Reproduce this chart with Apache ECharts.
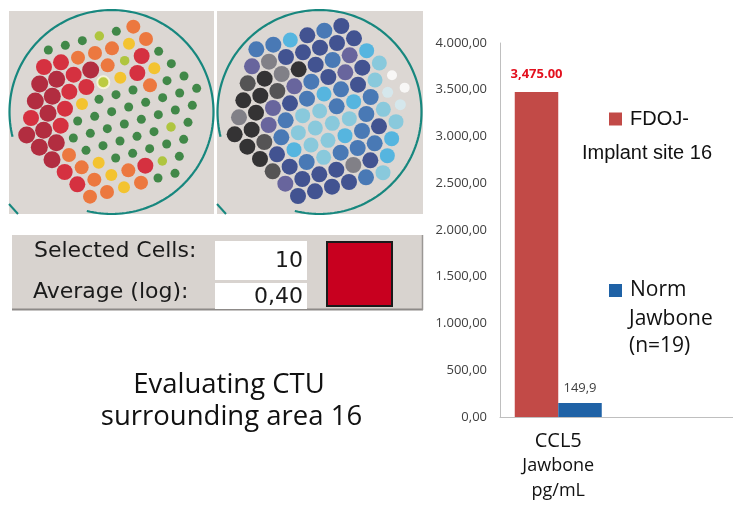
<!DOCTYPE html>
<html><head><meta charset="utf-8">
<script src="https://cdn.jsdelivr.net/npm/echarts@6/dist/echarts.min.js"></script>
<style>html,body{margin:0;padding:0;background:#fff}#c{width:733px;height:508px}</style>
</head><body><div id="c"></div>
<script>
// ---- chart data ----
const categories = ['CCL5|Jawbone|pg/mL'];
const seriesNames = ['FDOJ-Implant site 16', 'Norm Jawbone (n=19)'];
const fdojValues = [3475];
const normValues = [149.9];
const yMin = 0, yMax = 4000, yStep = 500;
const legendLinesA = ['FDOJ-', 'Implant site 16'];
const legendLinesB = ['Norm', 'Jawbone', '(n=19)'];
const captionLines = ['Evaluating CTU', 'surrounding area 16'];
const panelLabels = ['Selected Cells:', 'Average (log):'];
const panelValues = ['10', '0,40'];

// ---- cell maps (row by row) ----
const rowStart = [0,0,0,0,0,0,1,2,3,4,5];
const cellsA = ['GGGLGO','RROOOYO','DDRDOLRG','DDRRHYRYG','RDRYGGGOGG','DDRGGGGGGGG','DDGGGGGGGG','DOGGGGGLG','ROYGGGGG','ROYORLG','OOYOGG'];
const cellsB = ['BBSNBN','PgNNNNN','kKgKNBPS','KKkPBNPNC','gKPNBSBNCW','KKPBCCBSBUW','KkBCCCCBCU','KNSCCSBNC','kNBCBBBS','PNNNgNS','NNNNBC'];

const palA = {D:'#a8031b',R:'#d3071c',O:'#f0601a',Y:'#f9be08',L:'#a4c01a',H:'#b4c81e',G:'#1a7425'};
const sizeA = {D:17,R:16,O:14,Y:12,L:9.5,H:12,G:9};
const palB = {K:'#0a0a0c',k:'#333336',g:'#6a6a74',P:'#4b4890',N:'#1b3281',B:'#2461ae',S:'#34ade2',C:'#74c6de',U:'#d3ebf2',W:'#ffffff'};
const sizeB = {K:16,k:16,g:16,P:16,N:16,B:16,S:15,C:15,U:11,W:10};

const lat = {a:[17,-4.667], b:[-4.333,17]};
function cellData(rows, origin, pal, sizes){
  const out=[];
  rows.forEach((row,j)=>{
    for(let k=0;k<row.length;k++){
      const i=rowStart[j]+k, c=row[k];
      const item={value:[origin[0]+i*lat.a[0]+j*lat.b[0], origin[1]+i*lat.a[1]+j*lat.b[1]],
        symbolSize:sizes[c], itemStyle:{color:pal[c]}};
      if(c==='H'){item.itemStyle.borderColor='#fffbe6';item.itemStyle.borderWidth=2;}
      out.push(item);
    }
  });
  return out;
}

function fmtDE(v){let [a,b]=v.toFixed(2).split('.');a=a.replace(/\B(?=(\d{3})+(?!\d))/g,'.');return a+','+b;}
function fmtEN(v){let [a,b]=v.toFixed(2).split('.');a=a.replace(/\B(?=(\d{3})+(?!\d))/g,',');return a+'.'+b;}

function arcPoints(cx,cy,r,a0,a1){
  const pts=[];
  for(let t=a0;t<=a1+0.001;t+=2){const rad=t*Math.PI/180;pts.push([cx+r*Math.cos(rad),cy+r*Math.sin(rad)]);}
  return pts;
}
function panelGraphics(dx){
  return [
    {type:'rect',shape:{x:9+dx,y:11,width:205+(dx?1:0),height:203},style:{fill:'#dcd7d3'},z:-5},
    {type:'polyline',shape:{points:arcPoints(111.5+dx,112,102,166,464)},style:{stroke:'#17877e',lineWidth:2.2,fill:null},z:-4},
    {type:'line',shape:{x1:9+dx,y1:204,x2:18+dx,y2:214},style:{stroke:'#17877e',lineWidth:2},z:-4}
  ];
}

const chart=echarts.init(document.getElementById('c'));
const graphics=[].concat(panelGraphics(0),panelGraphics(208),[
  {type:'rect',shape:{x:12,y:235,width:411,height:75},style:{fill:'#d8d3cf'},z:-5},
  {type:'line',shape:{x1:12,y1:309.5,x2:423,y2:309.5},style:{stroke:'#8d8a88',lineWidth:2},z:-4},
  {type:'line',shape:{x1:422.5,y1:235,x2:422.5,y2:310},style:{stroke:'#9a9794',lineWidth:1.5},z:-4},
  {type:'rect',shape:{x:215,y:241,width:92,height:39},style:{fill:'#ffffff'},z:-4},
  {type:'rect',shape:{x:215,y:283,width:92,height:26},style:{fill:'#ffffff'},z:-4},
  {type:'rect',shape:{x:327,y:242,width:65,height:64},style:{fill:'#c8001f',stroke:'#1a1a1a',lineWidth:2},z:-4},
  {type:'text',left:34,top:240,style:{text:panelLabels[0],font:'22px "DejaVu Sans"',fill:'#1a1a1a'}},
  {type:'text',left:33,top:281,style:{text:panelLabels[1],font:'22px "DejaVu Sans"',fill:'#1a1a1a'}},
  {type:'text',right:733-303,top:250,style:{text:panelValues[0],font:'22px "DejaVu Sans"',fill:'#1a1a1a'}},
  {type:'text',right:733-303,top:286,style:{text:panelValues[1],font:'22px "DejaVu Sans"',fill:'#1a1a1a'}},
  {type:'text',x:229,y:385,style:{text:captionLines[0],font:'27.5px "Open Sans"',fill:'#111',textAlign:'center',textVerticalAlign:'middle'}},
  {type:'text',x:231.5,y:417,style:{text:captionLines[1],font:'27.5px "Open Sans"',fill:'#111',textAlign:'center',textVerticalAlign:'middle'}},
  {type:'text',x:647,y:153,style:{text:legendLinesA[1],font:'20px "Liberation Sans"',fill:'#111',textAlign:'center',textVerticalAlign:'middle'}},
  {type:'text',x:629,y:319,style:{text:legendLinesB[1],font:'21px "Open Sans"',fill:'#111',textAlign:'left',textVerticalAlign:'middle'}},
  {type:'text',x:629,y:346,style:{text:legendLinesB[2],font:'21px "Open Sans"',fill:'#111',textAlign:'left',textVerticalAlign:'middle'}}
]);

chart.setOption({
  animation:false,
  backgroundColor:'#ffffff',
  graphic:graphics,
  legend:[
    {data:[seriesNames[0]],left:609,top:109,padding:0,icon:'rect',itemWidth:13,itemHeight:13,selectedMode:false,
     formatter:()=>legendLinesA[0],textStyle:{fontFamily:'Liberation Sans',fontSize:20,color:'#111',lineHeight:13,padding:[0,0,0,3]}},
    {data:[seriesNames[1]],left:609,top:280,padding:0,icon:'rect',itemWidth:13,itemHeight:13,selectedMode:false,
     formatter:()=>legendLinesB[0],textStyle:{fontFamily:'Open Sans',fontSize:21,color:'#111',lineHeight:13,padding:[0,0,0,3]}}
  ],
  grid:[
    {left:500,top:43,width:240,height:374,containLabel:false},
    {left:0,top:0,width:733,height:508}
  ],
  xAxis:[
    {type:'category',gridIndex:0,data:categories.concat(['']),
     axisLine:{lineStyle:{color:'#bfbfbf',width:1}},axisTick:{show:false},
     axisLabel:{margin:12,interval:0,formatter:v=>{if(!v)return '';const p=v.split('|');return '{a|'+p[0]+'}\n{b|'+p[1]+'}\n{b|'+p[2]+'}';},
       rich:{a:{fontFamily:'Open Sans',fontSize:20,color:'#111',lineHeight:24},b:{fontFamily:'Open Sans',fontSize:18,color:'#111',lineHeight:25}}}},
    {type:'value',gridIndex:1,min:0,max:733,show:false}
  ],
  yAxis:[
    {type:'value',gridIndex:0,min:yMin,max:yMax,interval:yStep,
     axisLine:{show:true,lineStyle:{color:'#bfbfbf',width:1}},axisTick:{show:false},splitLine:{show:false},
     axisLabel:{margin:13,color:'#404040',fontFamily:'Open Sans',fontSize:13,formatter:v=>fmtDE(v)}},
    {type:'value',gridIndex:1,min:0,max:508,inverse:true,show:false}
  ],
  series:[
    {name:seriesNames[0],type:'bar',xAxisIndex:0,yAxisIndex:0,data:fdojValues,barWidth:43.5,barGap:'0%',
     itemStyle:{color:'#c24a47'},
     label:{show:true,position:'top',distance:11,formatter:p=>fmtEN(p.value),color:'#e3101e',fontWeight:'bold',fontFamily:'Open Sans',fontSize:13}},
    {name:seriesNames[1],type:'bar',xAxisIndex:0,yAxisIndex:0,data:normValues,barWidth:43.5,barGap:'0%',
     itemStyle:{color:'#1f62a6'},
     label:{show:true,position:'top',distance:8,formatter:p=>String(p.value).replace('.',','),color:'#404040',fontFamily:'Open Sans',fontSize:13}},
    {type:'scatter',xAxisIndex:1,yAxisIndex:1,symbol:'circle',data:cellData(cellsA,[48.33,50],palA,sizeA),silent:true,z:3},
    {type:'scatter',xAxisIndex:1,yAxisIndex:1,symbol:'circle',data:cellData(cellsB,[256.33,49.33],palB,sizeB),silent:true,z:3}
  ]
});
</script></body></html>
